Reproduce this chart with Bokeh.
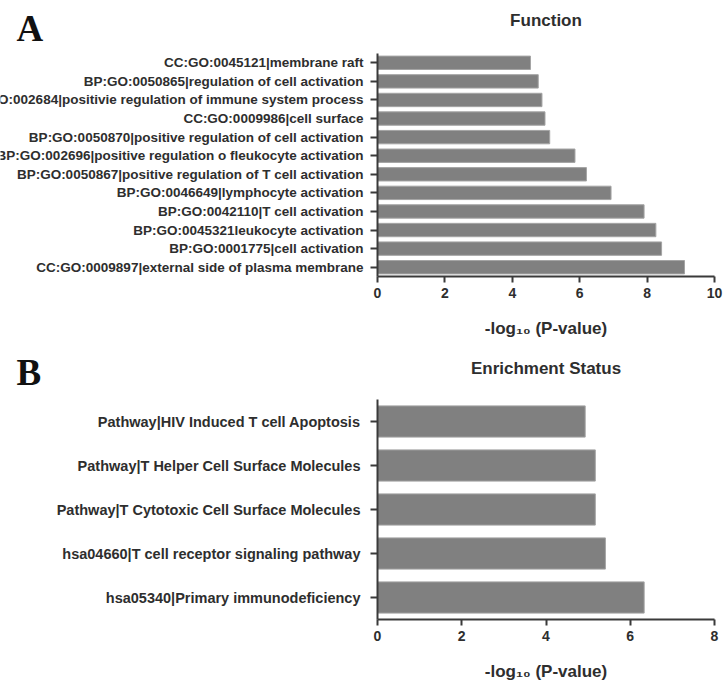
from bokeh.plotting import figure
from bokeh.models import Range1d, ColumnDataSource, FixedTicker
from bokeh.layouts import column, row
from bokeh.core.properties import value
from bokeh.embed import file_html
from bokeh.resources import INLINE

# ---- Panel A data (top to bottom as drawn) ----
func_terms = [
    "CC:GO:0045121|membrane raft",
    "BP:GO:0050865|regulation of cell activation",
    "BP:GO:002684|positivie regulation of immune system process",
    "CC:GO:0009986|cell surface",
    "BP:GO:0050870|positive regulation of cell activation",
    "BP:GO:002696|positive regulation o fleukocyte activation",
    "BP:GO:0050867|positive regulation of T cell activation",
    "BP:GO:0046649|lymphocyte activation",
    "BP:GO:0042110|T cell activation",
    "BP:GO:0045321leukocyte activation",
    "BP:GO:0001775|cell activation",
    "CC:GO:0009897|external side of plasma membrane",
]
func_values = [4.54, 4.77, 4.88, 4.97, 5.11, 5.86, 6.20, 6.93, 7.91, 8.26, 8.43, 9.11]
func_ticks = [0, 2, 4, 6, 8, 10]

# ---- Panel B data (top to bottom as drawn) ----
path_terms = [
    "Pathway|HIV Induced T cell Apoptosis",
    "Pathway|T Helper Cell Surface Molecules",
    "Pathway|T Cytotoxic Cell Surface Molecules",
    "hsa04660|T cell receptor signaling pathway",
    "hsa05340|Primary immunodeficiency",
]
path_values = [4.93, 5.17, 5.17, 5.41, 6.33]
path_ticks = [0, 2, 4, 6, 8]

x_label = "-log\u2081\u2080 (P-value)"

AXIS = "#3a3a3a"
TXT = "#2e2e2e"
SANS = "Liberation Sans"

LEFT_W = 369      # width of the label strip
GAP = 8           # border between label strip and bar frame
FRAME_W = 337
RIGHT = 9
TOTAL_W = LEFT_W + GAP + FRAME_W + RIGHT


def header(letter, title, h, title_from_top, letter_from_top):
    """A strip holding the panel letter and the centred panel title."""
    hp = figure(x_range=Range1d(0, TOTAL_W), y_range=Range1d(0, h),
                frame_width=TOTAL_W, frame_height=h,
                min_border_left=0, min_border_right=0,
                min_border_top=0, min_border_bottom=0,
                x_axis_type=None, y_axis_type=None,
                toolbar_location=None, output_backend="svg")
    hp.outline_line_color = None
    hp.text(x=[16], y=[h - letter_from_top], text=[letter],
            text_align="left", text_baseline="middle",
            text_font=value("Liberation Serif"), text_font_style="bold",
            text_font_size="37px", text_color="#111111")
    hp.text(x=[LEFT_W + GAP + FRAME_W / 2], y=[h - title_from_top], text=[title],
            text_align="center", text_baseline="middle",
            text_font=value(SANS), text_font_style="bold",
            text_font_size="17px", text_color=TXT)
    return hp


def make_panel(terms, values, ticks, frame_h, bottom, bar_h, lab_off, lab_size):
    n = len(terms)
    ypos = [n - 1 - i for i in range(n)]
    src = ColumnDataSource(dict(y=ypos, v=values, t=terms,
                                z=[0] * n, one=[1] * n))
    yr = Range1d(-0.5, n - 0.5)

    # ---- bar chart ----
    p = figure(x_range=Range1d(0, ticks[-1]), y_range=yr,
               frame_width=FRAME_W, frame_height=frame_h,
               min_border_left=GAP, min_border_right=RIGHT,
               min_border_top=0, min_border_bottom=bottom,
               toolbar_location=None, output_backend="svg")
    p.hbar(y="y", left="z", right="v", height=bar_h, source=src,
           fill_color="#808080", line_color="#a4a4a4", line_width=1)

    p.outline_line_color = None
    p.xgrid.grid_line_color = None
    p.ygrid.grid_line_color = None

    xa = p.xaxis[0]
    xa.ticker = FixedTicker(ticks=ticks)
    xa.minor_tick_line_color = None
    xa.major_tick_in = 0
    xa.major_tick_out = 6
    xa.major_tick_line_width = 2
    xa.major_tick_line_color = AXIS
    xa.axis_line_width = 2
    xa.axis_line_color = AXIS
    xa.major_label_standoff = 5
    xa.major_label_text_font = SANS
    xa.major_label_text_font_style = "bold"
    xa.major_label_text_font_size = "14px"
    xa.major_label_text_color = TXT
    xa.axis_label = x_label
    xa.axis_label_standoff = 18
    xa.axis_label_text_font = SANS
    xa.axis_label_text_font_style = "bold"
    xa.axis_label_text_font_size = "17px"
    xa.axis_label_text_color = TXT

    ya = p.yaxis[0]
    ya.ticker = FixedTicker(ticks=ypos)
    ya.minor_tick_line_color = None
    ya.major_label_overrides = {y: "" for y in ypos}
    ya.major_label_text_color = None
    ya.major_label_standoff = 0
    ya.major_tick_in = 0
    ya.major_tick_out = 7
    ya.major_tick_line_width = 2
    ya.major_tick_line_color = AXIS
    ya.axis_line_width = 2
    ya.axis_line_color = AXIS

    # ---- label strip on the left, sharing the category scale ----
    lp = figure(x_range=Range1d(0, 1), y_range=yr,
                frame_width=LEFT_W, frame_height=frame_h,
                min_border_left=0, min_border_right=0,
                min_border_top=0, min_border_bottom=bottom,
                x_axis_type=None, y_axis_type=None,
                toolbar_location=None, output_backend="svg")
    lp.outline_line_color = None
    lp.text(x="one", y="y", text="t", source=src, x_offset=lab_off,
            text_align="right", text_baseline="middle",
            text_font=value(SANS), text_font_style="bold",
            text_font_size=lab_size, text_color=TXT)
    return row(lp, p, spacing=0)


hA = header("A", "Function", 53, 20, 28)
pA = make_panel(func_terms, func_values, func_ticks,
                frame_h=223, bottom=62, bar_h=0.72, lab_off=-6, lab_size="13.5px")
hB = header("B", "Enrichment Status", 59, 28, 32)
pB = make_panel(path_terms, path_values, path_ticks,
                frame_h=220, bottom=61, bar_h=0.71, lab_off=-9, lab_size="14.5px")

layout = column(hA, pA, hB, pB, spacing=0)
open("out.html", "w").write(file_html(layout, INLINE))
